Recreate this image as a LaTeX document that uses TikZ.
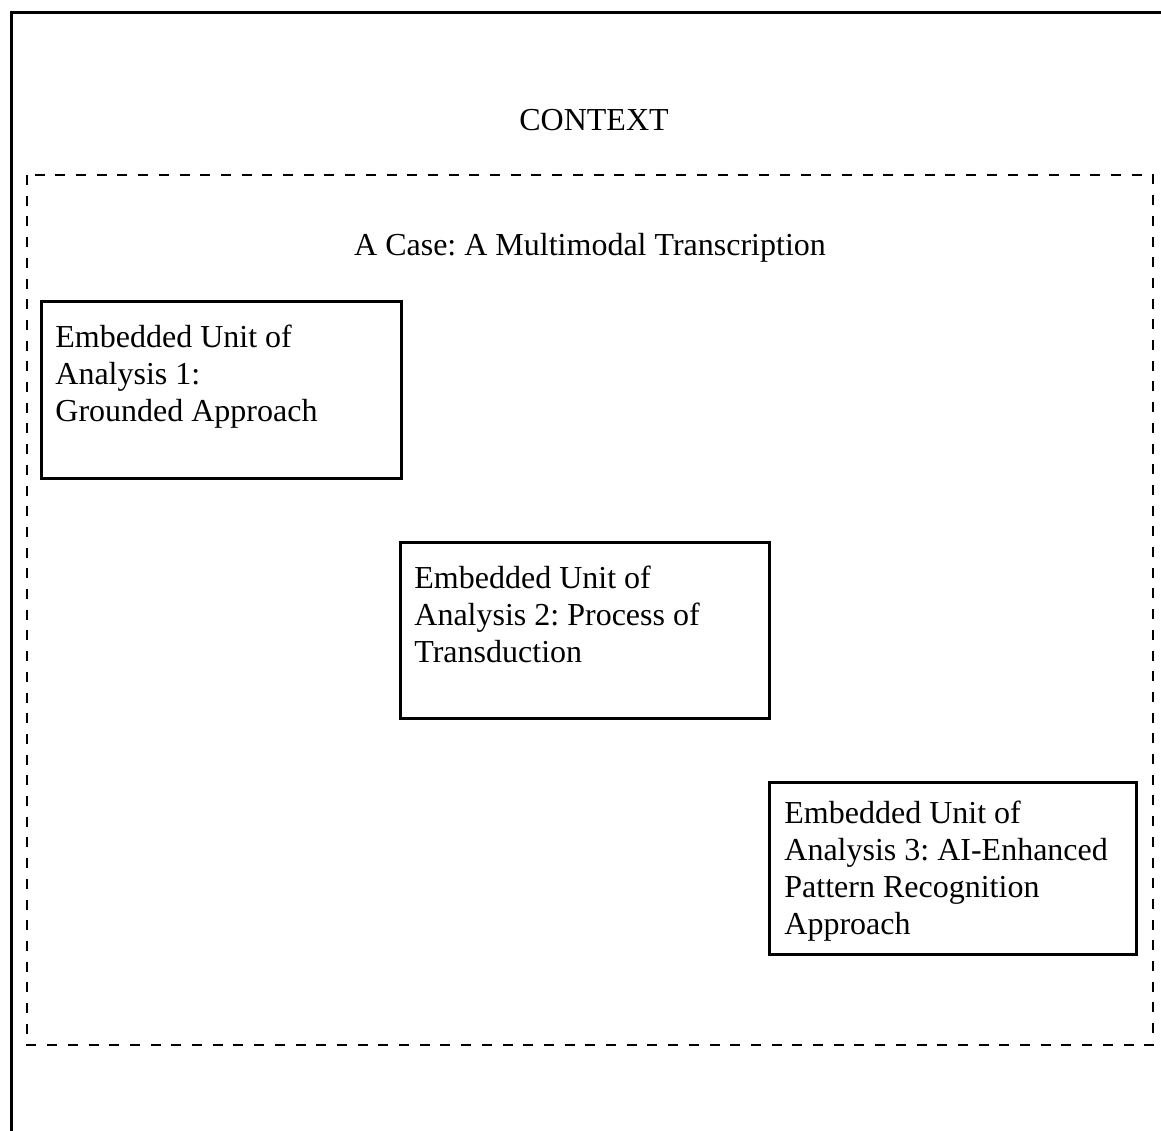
\documentclass[tikz,border=0pt]{standalone}
\usepackage{fontspec}
\setmainfont{Liberation Serif}
\frenchspacing
\begin{document}
\begin{tikzpicture}[x=0.5pt,y=-0.5pt,
  frame/.style={line width=1.2pt},
  casebox/.style={line width=1.2pt, dash pattern=on 5pt off 5.35pt},
  unitbox/.style={draw, line width=1.5pt, inner sep=0pt},
  lbl/.style={font=\fontsize{16}{18.5}\selectfont, inner sep=0pt},
  unittxt/.style={lbl, anchor=north west, align=left}]
\useasboundingbox (0,0) rectangle (1161,1130);
% outer context frame (open on right and bottom)
\draw[frame] (11.5,1131) -- (11.5,12.5) -- (1162,12.5);
% case (dashed)
\draw[casebox] (27,175) rectangle (1153,1045);
\node[lbl, anchor=base] (context) at (594,130.5) {CONTEXT};
\node[lbl, anchor=base] (case) at (590,255) {A Case: A Multimodal Transcription};
% embedded units
\node[unitbox, minimum width=180pt, minimum height=88.5pt] (u1) at (221,389.5) {};
\node[unitbox, minimum width=184.5pt, minimum height=88pt] (u2) at (584.5,630) {};
\node[unitbox, minimum width=183.5pt, minimum height=86pt] (u3) at (952.5,868) {};
\node[unittxt] (t1) at (55,324.5) {Embedded Unit of\\Analysis 1:\\Grounded Approach};
\node[unittxt] (t2) at (414,565.5) {Embedded Unit of\\Analysis 2: Process of\\Transduction};
\node[unittxt] (t3) at (784,800.5) {Embedded Unit of\\Analysis 3: AI-Enhanced\\Pattern Recognition\\Approach};
\end{tikzpicture}
\end{document}
